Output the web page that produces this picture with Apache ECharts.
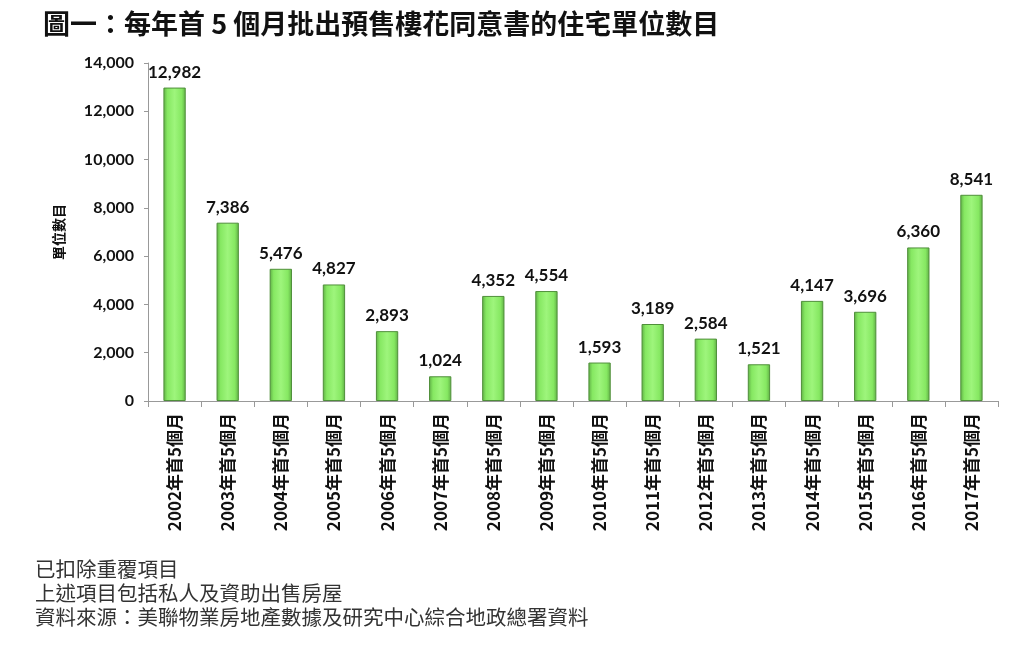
<!DOCTYPE html>
<html><head><meta charset="utf-8">
<script src="https://cdn.jsdelivr.net/npm/echarts@6/dist/echarts.min.js"></script>
<style>html,body{margin:0;padding:0;background:#fff}#c{width:1023px;height:649px}</style>
</head><body><div id="c"></div>
<script>
const titleText = '圖一：每年首 5 個月批出預售樓花同意書的住宅單位數目';
const years = ['2002','2003','2004','2005','2006','2007','2008','2009','2010','2011','2012','2013','2014','2015','2016','2017'];
const categories = years.map(y => y + '年首5個月');
const units = [12982,7386,5476,4827,2893,1024,4352,4554,1593,3189,2584,1521,4147,3696,6360,8541];
const yTicks = {min:0, max:14000, interval:2000};
const yName = '單位數目';
const notes = ['已扣除重覆項目','上述項目包括私人及資助出售房屋','資料來源：美聯物業房地產數據及研究中心綜合地政總署資料'];

const chart = echarts.init(document.getElementById('c'));
chart.setOption({
  backgroundColor:'#fff',
  animation:false,
  title:{text:titleText, left:38, top:5, textStyle:{fontFamily:'Noto Sans CJK TC', fontWeight:'bold', fontSize:27, color:'#111'}},
  graphic: notes.map((t,i)=>({type:'text', left:35, top:559+i*24, style:{text:t, font:'20.5px "Noto Sans CJK TC"', fill:'#333'}})),
  grid:{left:148, right:25, top:63, bottom:248},
  xAxis:{type:'category', data:categories,
    axisLine:{lineStyle:{color:'#999'}},
    axisTick:{show:true, alignWithLabel:false, length:6, lineStyle:{color:'#999'}},
    axisLabel:{rotate:90, interval:0, margin:12, fontSize:17, fontWeight:'bold', color:'#111', fontFamily:'Noto Sans CJK TC'}},
  yAxis:{type:'value', min:yTicks.min, max:yTicks.max, interval:yTicks.interval,
    name:yName, nameLocation:'middle', nameRotate:90, nameGap:82,
    nameTextStyle:{fontSize:14, fontWeight:'bold', color:'#111', fontFamily:'Noto Sans CJK TC'},
    axisLine:{show:true, lineStyle:{color:'#999'}},
    axisTick:{show:true, length:4, lineStyle:{color:'#999'}},
    splitLine:{show:false},
    axisLabel:{fontSize:16, fontWeight:'bold', color:'#111', fontFamily:'Lato', margin:14,
      formatter:v=>v.toLocaleString('en-US')}},
  series:[{type:'bar', data:units, barWidth:'42%',
    itemStyle:{borderColor:'#4f8f3a', borderWidth:1,
      color:new echarts.graphic.LinearGradient(0,0,1,0,[
        {offset:0,color:'#5fae45'},{offset:0.18,color:'#86e862'},{offset:0.5,color:'#9ef57c'},{offset:0.82,color:'#86e862'},{offset:1,color:'#5fae45'}])},
    label:{show:true, position:'top', distance:7, fontSize:17, fontWeight:'bold', color:'#111', fontFamily:'Lato',
      formatter:p=>p.value.toLocaleString('en-US')}}]
});
</script></body></html>
